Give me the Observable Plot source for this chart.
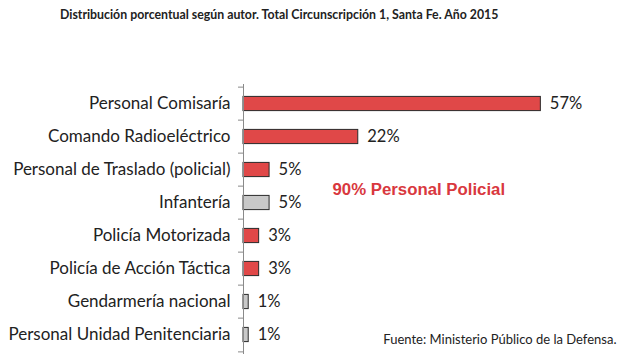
<!DOCTYPE html>
<html>
<head>
<meta charset="utf-8">
<script src="https://cdn.jsdelivr.net/npm/d3@7"></script>
<script src="https://cdn.jsdelivr.net/npm/@observablehq/plot@0.6"></script>
<style>
  body { margin: 0; background: #fff; width: 642px; height: 363px; overflow: hidden; }
  #title { height: 28px; line-height: 28px; padding-left: 60px; font-family: Lato, sans-serif; font-weight: bold; font-size: 14px; color: #222; white-space: nowrap; }
  #title span { display: inline-block; transform: scaleX(0.88); transform-origin: left center; }
</style>
</head>
<body>
<div id="title"><span>Distribución porcentual según autor. Total Circunscripción 1, Santa Fe. Año 2015</span></div>
<div id="chart"></div>
<script>
const categories = [
  "Personal Comisaría",
  "Comando Radioeléctrico",
  "Personal de Traslado (policial)",
  "Infantería",
  "Policía Motorizada",
  "Policía de Acción Táctica",
  "Gendarmería nacional",
  "Personal Unidad Penitenciaria"
];
const values = [57, 22, 5, 5, 3, 3, 1, 1];
const policial = [true, true, true, false, true, true, false, false];
const valueLabels = ["57%", "22%", "5%", "5%", "3%", "3%", "1%", "1%"];
const annotation = "90% Personal Policial";
const source = "Fuente: Ministerio Público de la Defensa.";

const data = categories.map((c, i) => ({cat: c, value: values[i], label: valueLabels[i], policial: policial[i]}));

const H = 335, mT = 56, mB = 9;
const step = (H - mT - mB) / categories.length;
const font = "Lato, sans-serif";

const chart = Plot.plot({
  width: 642,
  height: H,
  marginLeft: 243,
  marginRight: 86,
  marginTop: mT,
  marginBottom: mB,
  style: {fontFamily: font, background: "#fff", color: "#222"},
  x: {domain: [0, 60], axis: null},
  y: {domain: categories, padding: 0, label: null},
  marks: [
    Plot.barX(data, {
      y: "cat", x: "value",
      fill: d => d.policial ? "#e04848" : "#c8c8c8",
      stroke: "#2a2a2a", strokeWidth: 1,
      insetTop: 9.4, insetBottom: 9.4
    }),
    Plot.ruleX([0], {stroke: "#8a8a8a", strokeWidth: 1}),
    Plot.ruleY(data, {y: "cat", x1: 0, x2: 0, insetLeft: -5, dy: -step / 2, stroke: "#8a8a8a"}),
    Plot.ruleY(data.slice(-1), {y: "cat", x1: 0, x2: 0, insetLeft: -5, dy: step / 2, stroke: "#8a8a8a"}),
    Plot.axisY({tickSize: 0, tickPadding: 13, fontSize: 17, fill: "#222", label: null}),
    Plot.text(data, {y: "cat", x: "value", text: "label", dx: 9, textAnchor: "start", fontSize: 16.5, fill: "#222"}),
    Plot.text([annotation], {frameAnchor: "top-left", dx: 89, dy: 189 - 28 - mT, textAnchor: "start", lineAnchor: "middle", fontFamily: "Liberation Sans, Arial, sans-serif", fontWeight: "bold", fontSize: 16.8, fill: "#d9383e"}),
    Plot.text([source], {frameAnchor: "bottom-right", dx: 60, dy: -15, textAnchor: "end", lineAnchor: "middle", fontSize: 13, fill: "#222"})
  ]
});
document.getElementById("chart").appendChild(chart);
</script>
</body>
</html>
